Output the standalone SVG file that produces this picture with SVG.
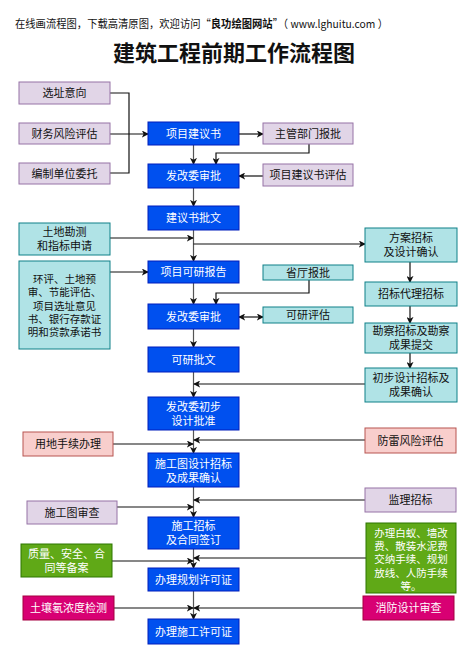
<svg xmlns="http://www.w3.org/2000/svg" width="468" height="657" viewBox="0 0 468 657">
<style>
text{font-family:"Noto Sans CJK SC","Liberation Sans",sans-serif;font-size:11px;text-anchor:middle}
.blue rect{fill:#0050ef;stroke:#001dbc}
.blue text,.green text,.mag text{fill:#fff}
.lav rect{fill:#e1d5e7;stroke:#9673a6}
.teal rect{fill:#b0e3e6;stroke:#0e8088}
.pink rect{fill:#f8cecc;stroke:#b85450}
.green rect{fill:#60a917;stroke:#2d7600}
.mag rect{fill:#d80073;stroke:#a50040}
text{fill:#111}
.ml{font-size:10.5px}
#edges path{fill:none;stroke:#111;stroke-width:1.2}
#edges path.v{stroke:#555}
</style>
<defs>
<marker id="a" viewBox="0 0 8 8" refX="7" refY="4" markerWidth="7" markerHeight="7" markerUnits="userSpaceOnUse" orient="auto-start-reverse"><path d="M0,0 L8,4 L0,8 L2,4 Z" fill="#111"/></marker>
</defs>
<rect width="468" height="657" fill="#fff"/>
<text x="15" y="28" textLength="373" lengthAdjust="spacingAndGlyphs" style="text-anchor:start;font-size:11px">在线画流程图，下载高清原图，欢迎访问“<tspan font-weight="bold">良功绘图网站</tspan>”（ www.lghuitu.com ）</text>
<text x="234" y="61" style="font-size:22px;font-weight:bold">建筑工程前期工作流程图</text>

<g id="edges">
<path class="v" d="M193.5,145 V164" marker-end="url(#a)"/>
<path class="v" d="M193.5,188 V206" marker-end="url(#a)"/>
<path class="v" d="M193.5,230 V261" marker-end="url(#a)"/>
<path class="v" d="M193.5,283 V304" marker-end="url(#a)"/>
<path class="v" d="M193.5,329 V347" marker-end="url(#a)"/>
<path class="v" d="M193.5,372 V397" marker-end="url(#a)"/>
<path class="v" d="M193.5,430 V453" marker-end="url(#a)"/>
<path class="v" d="M193.5,487 V517" marker-end="url(#a)"/>
<path class="v" d="M193.5,549 V568" marker-end="url(#a)"/>
<path class="v" d="M193.5,591 V619" marker-end="url(#a)"/>
<path d="M110,93 H129 V173 H110"/>
<path d="M110,134 H148" marker-end="url(#a)"/>
<path d="M239,134 H263" marker-end="url(#a)"/>
<path d="M309,144 V153 H216 V164" marker-end="url(#a)"/>
<path d="M263,176 H239" marker-end="url(#a)"/>
<path d="M110,238 H193" marker-end="url(#a)"/>
<path d="M193.5,244 H365" marker-end="url(#a)"/>
<path d="M110,272 H148" marker-end="url(#a)"/>
<path d="M309,280 V293 H216 V304" marker-end="url(#a)"/>
<path d="M239,317 H263" marker-start="url(#a)" marker-end="url(#a)"/>
<path d="M410,262 V282" marker-end="url(#a)"/>
<path d="M410,306 V323" marker-end="url(#a)"/>
<path d="M410,353 V368" marker-end="url(#a)"/>
<path d="M365,384 H194" marker-end="url(#a)"/>
<path d="M365,440 H194" marker-end="url(#a)"/>
<path d="M113,444 H193" marker-end="url(#a)"/>
<path d="M365,500 H194" marker-end="url(#a)"/>
<path d="M117,507 H193" marker-end="url(#a)"/>
<path d="M366,558 H194" marker-end="url(#a)"/>
<path d="M112,561 H193" marker-end="url(#a)"/>
<path d="M114,608 H193" marker-end="url(#a)"/>
<path d="M363,608 H194" marker-end="url(#a)"/>
</g>

<g id="n1" class="blue"><rect x="148" y="122" width="91" height="23"/><text x="193.5" y="137.5">项目建议书</text></g>
<g id="n2" class="blue"><rect x="148" y="164" width="91" height="24"/><text x="193.5" y="180">发改委审批</text></g>
<g id="n3" class="blue"><rect x="148" y="206" width="91" height="24"/><text x="193.5" y="222">建议书批文</text></g>
<g id="n4" class="blue"><rect x="148" y="261" width="91" height="22"/><text x="193.5" y="276">项目可研报告</text></g>
<g id="n5" class="blue"><rect x="148" y="304" width="91" height="25"/><text x="193.5" y="320.5">发改委审批</text></g>
<g id="n6" class="blue"><rect x="148" y="347" width="91" height="25"/><text x="193.5" y="363.5">可研批文</text></g>
<g id="n7" class="blue"><rect x="148" y="397" width="91" height="33"/><text x="193.5" y="411">发改委初步</text><text x="193.5" y="425">设计批准</text></g>
<g id="n8" class="blue"><rect x="148" y="453" width="91" height="34"/><text x="193.5" y="468">施工图设计招标</text><text x="193.5" y="482">及成果确认</text></g>
<g id="n9" class="blue"><rect x="148" y="517" width="91" height="32"/><text x="193.5" y="530">施工招标</text><text x="193.5" y="544">及合同签订</text></g>
<g id="n10" class="blue"><rect x="148" y="568" width="91" height="23"/><text x="193.5" y="583.5">办理规划许可证</text></g>
<g id="n11" class="blue"><rect x="148" y="619" width="91" height="25"/><text x="193.5" y="635.5">办理施工许可证</text></g>

<g id="l1" class="lav"><rect x="19" y="82" width="91" height="22"/><text x="64.5" y="97">选址意向</text></g>
<g id="l2" class="lav"><rect x="19" y="123" width="91" height="21"/><text x="64.5" y="137.5">财务风险评估</text></g>
<g id="l3" class="lav"><rect x="19" y="163" width="91" height="21"/><text x="64.5" y="177.5">编制单位委托</text></g>
<g id="r1" class="lav"><rect x="263" y="123" width="90" height="21"/><text x="308" y="137.5">主管部门报批</text></g>
<g id="r2" class="lav"><rect x="263" y="164" width="90" height="22"/><text x="308" y="179">项目建议书评估</text></g>

<g id="t1" class="teal"><rect x="19" y="223" width="91" height="32"/><text x="64.5" y="236">土地勘测</text><text x="64.5" y="250">和指标申请</text></g>
<g id="t2" class="teal"><rect x="19" y="261" width="91" height="88"/><text class="ml" x="64.5" y="283">环评、土地预</text><text class="ml" x="64.5" y="296.3">审、节能评估、</text><text class="ml" x="64.5" y="309.6">项目选址意见</text><text class="ml" x="64.5" y="322.9">书、银行存款证</text><text class="ml" x="64.5" y="336.2">明和贷款承诺书</text></g>
<g id="t3" class="teal"><rect x="263" y="265" width="90" height="15"/><text x="308" y="276.5">省厅报批</text></g>
<g id="t4" class="teal"><rect x="263" y="307" width="90" height="16"/><text x="308" y="319">可研评估</text></g>
<g id="t5" class="teal"><rect x="365" y="228" width="92" height="34"/><text x="411" y="242">方案招标</text><text x="411" y="256">及设计确认</text></g>
<g id="t6" class="teal"><rect x="365" y="282" width="92" height="24"/><text x="411" y="298">招标代理招标</text></g>
<g id="t7" class="teal"><rect x="365" y="323" width="92" height="30"/><text x="411" y="335">勘察招标及勘察</text><text x="411" y="349">成果提交</text></g>
<g id="t8" class="teal"><rect x="365" y="368" width="92" height="34"/><text x="411" y="382">初步设计招标及</text><text x="411" y="396">成果确认</text></g>

<g id="p1" class="pink"><rect x="365" y="428" width="91" height="25"/><text x="410.5" y="444.5">防雷风险评估</text></g>
<g id="p2" class="pink"><rect x="23" y="432" width="90" height="24"/><text x="68" y="448">用地手续办理</text></g>
<g id="l4" class="lav"><rect x="27" y="501" width="90" height="23"/><text x="72" y="516.5">施工图审查</text></g>
<g id="l5" class="lav"><rect x="365" y="488" width="91" height="24"/><text x="410.5" y="504">监理招标</text></g>

<g id="g1" class="green"><rect x="366" y="523" width="90" height="70"/><text class="ml" x="411" y="537">办理白蚁、墙改</text><text class="ml" x="411" y="550">费、散装水泥费</text><text class="ml" x="411" y="563">交纳手续、规划</text><text class="ml" x="411" y="576.5">放线、人防手续</text><text class="ml" x="411" y="590">等。</text></g>
<g id="g2" class="green"><rect x="21" y="544" width="91" height="33"/><text x="66.5" y="558">质量、安全、合</text><text x="66.5" y="572">同等备案</text></g>
<g id="m1" class="mag"><rect x="23" y="596" width="91" height="24"/><text x="68.5" y="612">土壤氡浓度检测</text></g>
<g id="m2" class="mag"><rect x="363" y="596" width="91" height="24"/><text x="408.5" y="612">消防设计审查</text></g>
</svg>
